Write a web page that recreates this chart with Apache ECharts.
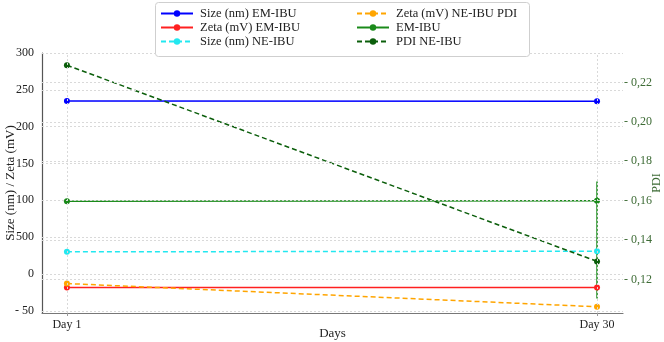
<!DOCTYPE html>
<html>
<head>
<meta charset="utf-8">
<script src="https://cdn.jsdelivr.net/npm/echarts@6/dist/echarts.min.js"></script>
<style>
  html, body { margin: 0; padding: 0; background: #fff; }
  #chart { width: 664px; height: 342px; }
</style>
</head>
<body>
<div id="chart"></div>
<script>
// Size / Zeta on the left axis, PDI on the right axis
const DAYS = ["Day 1", "Day 30"];
const SIZE_EM = [235, 234.5];
const ZETA_EM = [-18.5, -18.5];
const SIZE_NE = [30, 31];
const ZETA_NE = [-13, -44.5];
const PDI_EM = [0.1597, 0.16];
const PDI_NE = [0.2288, 0.1292];
const PDI_EM_LOW = [null, 0.1103];   // error bar seen on day 30 only
const PDI_EM_HIGH = [null, 0.1697];

const LEFT_TICKS = [-50, 0, 50, 100, 150, 200, 250, 300];
const LEFT_LABELS = { "-50": "- 50", "50": "500" };   // as printed in the source figure
const RIGHT_TICKS = [0.12, 0.14, 0.16, 0.18, 0.20, 0.22];

const FONT = "Liberation Serif";
const PDI_CLR = "#3d6b35";
const GRID_CLR = "#d9d9d9";

const pts = vals => vals.map((v, i) => [i, v]);

const chart = echarts.init(document.getElementById("chart"), null, { renderer: "canvas" });

function line(name, data, color, dashed, yAxisIndex, z) {
  return {
    name, type: "line", yAxisIndex, data: pts(data), z: z || 3,
    symbol: "circle", symbolSize: 6, showSymbol: true,
    itemStyle: { color },
    lineStyle: { color, width: 1.5, type: dashed ? [5, 3] : "solid" },
    emphasis: { disabled: true },
  };
}

const legendText = { fontFamily: FONT, fontSize: 12.5, color: "#222", padding: [0, 0, 0, 2] };
const legendBase = { orient: "vertical", top: 7, itemGap: 1, itemWidth: 32, itemHeight: 8,
  textStyle: legendText, selectedMode: false, z: 10, padding: 0 };

chart.setOption({
  backgroundColor: "#fff",
  animation: false,
  textStyle: { fontFamily: FONT },
  grid: { left: 42, right: 41, top: 53, bottom: 29, outerBoundsMode: "none", containLabel: false },
  xAxis: {
    type: "value", min: -0.047, max: 1.049,
    name: "Days", nameLocation: "middle", nameGap: 14, nameMoveOverlap: false,
    nameTextStyle: { fontFamily: FONT, fontSize: 13, color: "#222" },
    axisLine: { onZero: false, lineStyle: { color: "#777", width: 1.2 } },
    axisTick: { customValues: [0, 1], lineStyle: { color: "#999" }, length: 3 },
    axisLabel: { customValues: [0, 1], formatter: v => DAYS[Math.round(v)] ?? "",
      fontFamily: FONT, fontSize: 12, color: "#222", margin: 6 },
    splitLine: { show: false },
  },
  yAxis: [
    { type: "value", min: -53, max: 300, position: "left",
      name: "Size (nm) / Zeta (mV)", nameLocation: "middle", nameGap: 25, nameMoveOverlap: false,
      nameTextStyle: { fontFamily: FONT, fontSize: 13, color: "#222" },
      axisLine: { show: true, onZero: false, lineStyle: { color: "#555", width: 1.2 } },
      axisTick: { show: false },
      axisLabel: { customValues: LEFT_TICKS, formatter: v => LEFT_LABELS[String(v)] ?? String(v),
        fontFamily: FONT, fontSize: 12, color: "#222", margin: 8 },
      splitLine: { show: false } },
    { type: "value", min: 0.103, max: 0.235, position: "right",
      name: "PDI", nameLocation: "middle", nameGap: 28, nameMoveOverlap: false,
      nameTextStyle: { fontFamily: FONT, fontSize: 12, color: PDI_CLR },
      axisLine: { show: false, onZero: false }, axisTick: { show: false },
      axisLabel: { customValues: RIGHT_TICKS, formatter: v => "- " + v.toFixed(2).replace(".", ","),
        fontFamily: FONT, fontSize: 12, color: PDI_CLR, margin: 1 },
      splitLine: { show: false } },
  ],
  legend: [
    { ...legendBase, left: 160,
      data: ["Size (nm) EM-IBU", "Zeta (mV) EM-IBU", "Size (nm) NE-IBU"] },
    { ...legendBase, left: 356,
      data: ["Zeta (mV) NE-IBU PDI", "EM-IBU", "PDI NE-IBU"] },
  ],
  graphic: [
    { type: "rect", left: 155, top: 2, z: 8,
      shape: { width: 374, height: 54, r: 3 },
      style: { fill: "#fff", stroke: "#cfcfcf", lineWidth: 1 } },
  ],
  series: [
    // grid lines drawn from the tick lists
    { type: "line", data: [], yAxisIndex: 0, silent: true, z: 1,
      markLine: { silent: true, symbol: "none", label: { show: false },
        lineStyle: { color: GRID_CLR, type: [2, 2], width: 1 },
        data: [...LEFT_TICKS.map(v => ({ yAxis: v })), { xAxis: 0 }, { xAxis: 1 }] } },
    { type: "line", data: [], yAxisIndex: 1, silent: true, z: 1,
      markLine: { silent: true, symbol: "none", label: { show: false },
        lineStyle: { color: GRID_CLR, type: [2, 2], width: 1 },
        data: RIGHT_TICKS.map(v => ({ yAxis: v })) } },
    line("Size (nm) EM-IBU", SIZE_EM, "#0000ff", false, 0),
    line("Zeta (mV) EM-IBU", ZETA_EM, "#ff2020", false, 0),
    line("Size (nm) NE-IBU", SIZE_NE, "#22e8f0", true, 0),
    line("Zeta (mV) NE-IBU PDI", ZETA_NE, "#ffa500", true, 0),
    line("EM-IBU", PDI_EM, "#1a8a1a", false, 1),
    line("PDI NE-IBU", PDI_NE, "#0b5e0b", true, 1, 4),
    { type: "custom", yAxisIndex: 1, z: 3, silent: true,
      data: PDI_EM_LOW.map((lo, i) => [i, lo, PDI_EM_HIGH[i]]).filter(d => d[1] != null),
      renderItem(params, api) {
        const a = api.coord([api.value(0), api.value(1)]);
        const b = api.coord([api.value(0), api.value(2)]);
        return { type: "line", shape: { x1: a[0], y1: a[1], x2: b[0], y2: b[1] },
          style: { stroke: "#1a8a1a", lineWidth: 1.5 } };
      } },
  ],
});
</script>
</body>
</html>
